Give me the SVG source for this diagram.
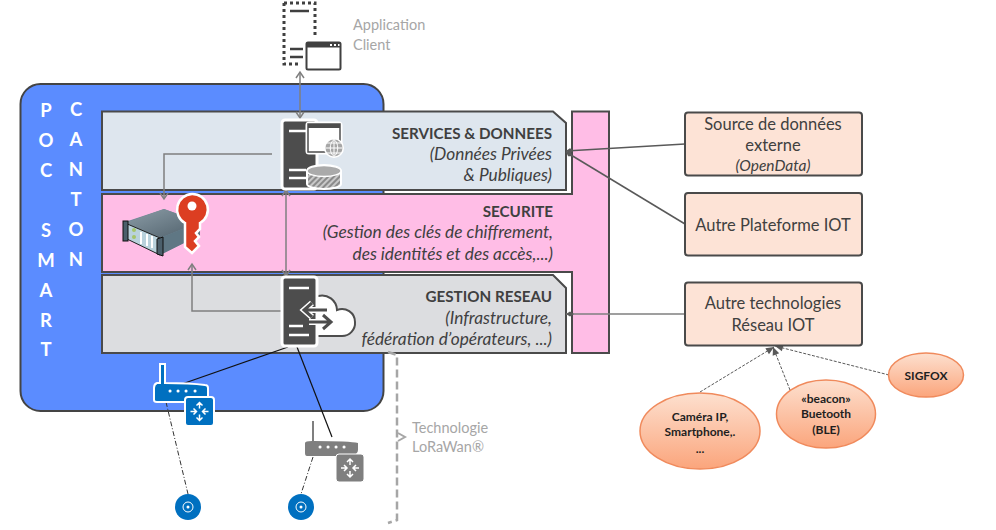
<svg xmlns="http://www.w3.org/2000/svg" width="996" height="530" viewBox="0 0 996 530">
<defs>
<style>
text{font-family:Lato,"Open Sans","Liberation Sans",sans-serif;fill:#404040}
.it{font-style:italic}
.m{text-anchor:middle}
.band{stroke:#4a4a4a;stroke-width:2}
.box{fill:#fde3d6;stroke:#4a4a4a;stroke-width:2}
.boxt{font-size:16.5px;text-anchor:middle}
.side{font-size:18.5px;font-weight:700;fill:#fff;text-anchor:middle}
.head{font-size:15.200px;font-weight:700;text-anchor:end}
.body{font-size:17.300px;font-style:italic;text-anchor:end}
.oval{fill:url(#og);stroke:#f08a5c;stroke-width:1.5}
.ovt{font-size:12px;font-weight:700;text-anchor:middle;fill:#1f1f1f}
.grey{font-size:14.500px;fill:#a6a6a6}
.srv{fill:#4d4d4d;stroke:#fff;stroke-width:3}
.c{fill:none;stroke:#7f7f7f;stroke-width:1.5}
.c2{fill:none;stroke:#595959;stroke-width:1.5}
.d{fill:none;stroke:#595959;stroke-width:1;stroke-dasharray:3 1.5}
.dd{fill:none;stroke:#333;stroke-width:1;stroke-dasharray:5 2 1 2}
.blk{fill:none;stroke:#111;stroke-width:1.2}
</style>
<linearGradient id="og" x1="0" y1="0" x2="0" y2="1"><stop offset="0" stop-color="#fde0cf"/><stop offset="1" stop-color="#fba57c"/></linearGradient>
<linearGradient id="srvtop" x1="0" y1="0" x2="1" y2="1"><stop offset="0" stop-color="#8d9ea8"/><stop offset="1" stop-color="#4e5f6a"/></linearGradient>
<pattern id="hatch" width="4" height="4" patternUnits="userSpaceOnUse" patternTransform="rotate(45)"><rect width="4" height="4" fill="#c8c8c8"/><rect width="2" height="4" fill="#8a8a8a"/></pattern>
<marker id="op" markerWidth="10" markerHeight="10" refX="8" refY="5" orient="auto-start-reverse" markerUnits="userSpaceOnUse"><path d="M2 1 L8 5 L2 9" fill="none" stroke="#7f7f7f" stroke-width="1.5"/></marker>
<marker id="dia" markerWidth="10" markerHeight="8" refX="8" refY="4" orient="auto" markerUnits="userSpaceOnUse"><path d="M0 4 L4 1.500 L8 4 L4 6.500 Z" fill="#595959"/></marker>
<marker id="solid" markerWidth="10" markerHeight="10" refX="9" refY="5" orient="auto" markerUnits="userSpaceOnUse"><path d="M1 1.500 L9 5 L1 8.500 Z" fill="#595959"/></marker>
<g id="arrows4"><path d="M0 -9V-3M-3 -6L0 -9L3 -6M0 9V3M-3 6L0 9L3 6M-9 0H-3M-6 -3L-3 0L-6 3M9 0H3M6 -3L3 0L6 3" fill="none" stroke="#fff" stroke-width="1.5"/></g>
</defs>

<g id="poc-smart-canton">
<rect x="20.500" y="84" width="363" height="327" rx="20" fill="#5b8cff" stroke="#444" stroke-width="2"/>
<text class="side" x="46" y="117">P</text>
<text class="side" x="46" y="147">O</text>
<text class="side" x="46" y="177">C</text>
<text class="side" x="46" y="237">S</text>
<text class="side" x="46" y="267">M</text>
<text class="side" x="46" y="297">A</text>
<text class="side" x="46" y="327">R</text>
<text class="side" x="46" y="356">T</text>
<text class="side" x="76" y="116">C</text>
<text class="side" x="76" y="146">A</text>
<text class="side" x="76" y="176">N</text>
<text class="side" x="76" y="206">T</text>
<text class="side" x="76" y="236">O</text>
<text class="side" x="76" y="266">N</text>
</g>

<g id="securite">
<path class="band" fill="#ffbde6" d="M572 111.500H609V353H572V272H102V194H572Z"/>
<text class="head" x="553" y="217">SECURITE</text>
<text class="body" x="553" y="238">(Gestion des clés de chiffrement,</text>
<text class="body" x="553" y="260">des identités et des accès,...)</text>
<g id="appliance">
<path d="M125 222L164 209L200 222L200 235L160 255L125 238Z" fill="#6f8794"/>
<path d="M125 223L164 209L200 222L160 238Z" fill="url(#srvtop)"/>
<path d="M125 223L160 238V255L125 238Z" fill="#b9d2dc" stroke="#222" stroke-width="1"/>
<path d="M160 238L200 222V235L160 255Z" fill="#5f7784"/>
<rect x="123" y="221" width="5" height="20" fill="#4b5f6b" stroke="#111"/>
<path d="M157 239l6 -2v19l-6 -2z" fill="#4b5f6b" stroke="#111"/>
<circle cx="134" cy="230" r="2" fill="#a5c56a"/><circle cx="134" cy="237" r="2" fill="#a5c56a"/>
<path d="M141 232v12M147 234v12M152 236v12" stroke="#fff" stroke-width="2"/>
</g>
<g id="key">
<path d="M192 194A15.500 15.500 0 0 1 200 223V229L196 233L199 237L195 241L199 246L192 253L185 247V223A15.500 15.500 0 0 1 192 194Z" fill="#dc3e22" stroke="#fff" stroke-width="2.500"/>
<circle cx="192" cy="206" r="4.500" fill="#fff"/>
</g>
</g>

<g id="services">
<path class="band" fill="#dee6ee" d="M102 111.500H553L566 123V190H102Z"/>
<text class="head" x="552" y="139">SERVICES &amp; DONNEES</text>
<text class="body" x="552" y="160">(Données Privées</text>
<text class="body" x="552" y="181">&amp; Publiques)</text>
</g>

<g id="gestion">
<path class="band" fill="#dcdde0" d="M102 275H553L566 288V353H102Z"/>
<text class="head" x="552" y="302">GESTION RESEAU</text>
<text class="body" x="552" y="324">(Infrastructure,</text>
<text class="body" x="552" y="345">fédération d’opérateurs, ...)</text>
</g>

<g id="connectors">
<path class="c" d="M300 72V118" marker-start="url(#op)" marker-end="url(#op)"/>
<path class="c" d="M272 154H164V199" marker-end="url(#op)"/>
<path class="c" d="M286 190V276" marker-start="url(#op)" marker-end="url(#op)"/>
<path class="c" d="M282 311H192V264" marker-end="url(#op)"/>
<path class="blk" d="M288 347L182 384"/>
<path class="blk" d="M297 347L332 437"/>
<path class="dd" d="M166 402L188 494"/>
<path class="dd" d="M313 457L301 494"/>
<path class="c2" d="M685 144L566 151" marker-end="url(#dia)"/>
<path class="c2" d="M685 224L566 152" marker-end="url(#dia)"/>
<path class="c" d="M685 314H566" marker-end="url(#dia)"/>
<path class="d" d="M700 392L774 347" marker-end="url(#solid)"/>
<path class="d" d="M790 390L773 347" marker-end="url(#solid)"/>
<path class="d" d="M889 375L775 346" marker-end="url(#solid)"/>
<path d="M388 352L397 355V520L388 523" fill="none" stroke="#a6a6a6" stroke-width="2.500" stroke-dasharray="8 4"/>
<path d="M398 433L405 437L398 441" fill="none" stroke="#a6a6a6" stroke-width="2"/>
</g>

<g id="application-client">
<path d="M284 3H315V38M284 3V64H301" fill="none" stroke="#404040" stroke-width="3" stroke-dasharray="3 3"/>
<path d="M290 11H309M290 49H303M290 57H303" stroke="#404040" stroke-width="2.500" fill="none"/>
<rect x="306.500" y="42.500" width="34" height="27" rx="1.500" fill="#fff" stroke="#404040" stroke-width="2"/>
<rect x="306.500" y="42.500" width="34" height="5" fill="#404040"/>
<path d="M330 45h2M334 45h2M338 45h1.500" stroke="#fff" stroke-width="2"/>
<text class="grey" x="353" y="30">Application</text>
<text class="grey" x="353" y="50">Client</text>
</g>

<g id="serveur-services">
<rect class="srv" x="282" y="120" width="35" height="69" rx="3"/>
<path d="M289 131H306M289 170H306M289 178H306" stroke="#fff" stroke-width="2.500"/>
<rect x="307" y="123" width="34" height="30" rx="2" fill="#fff" stroke="#fff" stroke-width="3"/>
<rect x="308" y="124" width="32" height="28" fill="#fff" stroke="#4d4d4d" stroke-width="1.500"/>
<rect x="308" y="124" width="32" height="4" fill="#4d4d4d"/>
<circle cx="334" cy="148" r="10" fill="#fff"/>
<circle cx="334" cy="148" r="8.500" fill="#a6a6a6"/>
<path d="M325.500 148H342.500M334 139.500V156.500M327 143H341M327 153H341M334 139.500C329 143 329 153 334 156.500M334 139.500C339 143 339 153 334 156.500" stroke="#fff" stroke-width="1" fill="none"/>
<path d="M307 171a17 6 0 0 1 34 0V184a17 5 0 0 1 -34 0Z" fill="url(#hatch)" stroke="#fff" stroke-width="2"/>
<ellipse cx="324" cy="171" rx="17" ry="5.500" fill="#aaa" stroke="#fff" stroke-width="1.500"/>
</g>

<g id="serveur-reseau">
<path d="M315 336H342A13 13 0 0 0 355 322A13 13 0 0 0 337 310A15 15 0 0 0 318 296H312V336Z" fill="#fff" stroke="#4d4d4d" stroke-width="2"/>
<rect class="srv" x="282" y="277" width="35" height="69" rx="3"/>
<path d="M289 288H309M289 335H309M289 326H303" stroke="#fff" stroke-width="2.500"/>
<path d="M327 310H306M312 303L304 310L312 317" fill="none" stroke="#fff" stroke-width="6"/>
<path d="M327 310H306M312 303L304 310L312 317" fill="none" stroke="#4d4d4d" stroke-width="3"/>
<path d="M309 322H330M323 315L331 322L323 329" fill="none" stroke="#fff" stroke-width="6"/>
<path d="M309 322H330M323 315L331 322L323 329" fill="none" stroke="#4d4d4d" stroke-width="3"/>
</g>

<g id="routeur-bleu">
<path d="M160 364V383H157Q154 384 154 388V400Q154 402 157 402H208V388Q208 385 205 385Q190 383 165 383V364Z" fill="#0070c0" stroke="#fff" stroke-width="2"/>
<path d="M170 391h.1M178 391h.1M186 391h.1M195 391h.1" stroke="#fff" stroke-width="3" stroke-linecap="round"/>
<rect x="185" y="397" width="29" height="29" rx="3" fill="#0070c0" stroke="#fff" stroke-width="2"/>
<use href="#arrows4" x="199.500" y="411.500"/>
<circle cx="188" cy="507" r="13" fill="#0070c0"/><circle cx="188" cy="507" r="5" fill="none" stroke="#fff"/><circle cx="188" cy="507" r="1.500" fill="#fff"/>
</g>

<g id="routeur-gris">
<path d="M312 421H314V441Q350 441 358 443V450Q358 455 350 456H307Q305 456 305 453V443Q305 441 312 441Z" fill="#7f7f7f"/>
<path d="M320 447h.1M328 447h.1M336 447h.1M344 447h.1" stroke="#fff" stroke-width="3" stroke-linecap="round"/>
<rect x="336" y="454" width="28" height="28" rx="3" fill="#7f7f7f" stroke="#fff" stroke-width="1"/>
<use href="#arrows4" x="350" y="468"/>
<circle cx="301" cy="507" r="13" fill="#0070c0"/><circle cx="301" cy="507" r="5" fill="none" stroke="#fff"/><circle cx="301" cy="507" r="1.500" fill="#fff"/>
</g>

<g id="lorawan">
<text class="grey" x="412" y="433">Technologie</text>
<text class="grey" x="412" y="452">LoRaWan®</text>
</g>

<g id="source-donnees">
<rect class="box" x="685" y="112.500" width="177" height="63" rx="3"/>
<text class="boxt" x="773" y="130">Source de données</text>
<text class="boxt" x="773" y="151">externe</text>
<text class="it m" x="773" y="171" font-size="15.500">(OpenData)</text>
</g>
<g id="autre-plateforme">
<rect class="box" x="685" y="193" width="177" height="62.500" rx="3"/>
<text class="boxt" x="773" y="231">Autre Plateforme IOT</text>
</g>
<g id="autre-technologies">
<rect class="box" x="685" y="282.500" width="177" height="63" rx="3"/>
<text class="boxt" x="773" y="309">Autre technologies</text>
<text class="boxt" x="773" y="331">Réseau IOT</text>
</g>
<g id="camera">
<ellipse class="oval" cx="700" cy="431" rx="60" ry="38"/>
<text class="ovt" x="700" y="421">Caméra IP,</text>
<text class="ovt" x="700" y="436">Smartphone,.</text>
<text class="ovt" x="700" y="453">...</text>
</g>
<g id="beacon">
<ellipse class="oval" cx="826" cy="414" rx="49.500" ry="34"/>
<text class="ovt" x="826" y="403">«beacon»</text>
<text class="ovt" x="826" y="418">Buetooth</text>
<text class="ovt" x="826" y="434">(BLE)</text>
</g>
<g id="sigfox">
<ellipse class="oval" cx="926" cy="375" rx="37.500" ry="22"/>
<text class="ovt" x="926" y="380">SIGFOX</text>
</g>
</svg>
